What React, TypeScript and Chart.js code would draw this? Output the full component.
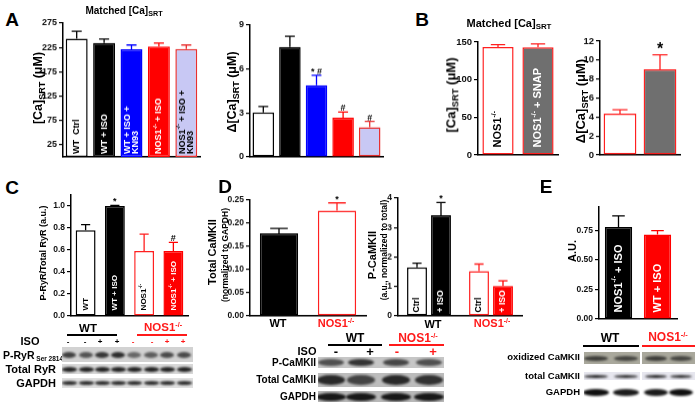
import React, { useEffect, useRef } from "react";
import { Chart, registerables } from "chart.js";
Chart.register(...registerables);

const FONT = '"Liberation Sans", Arial, Helvetica, sans-serif';

// ---------------- DATA ----------------
const aLeftCategories = ["WT  Ctrl", "WT + ISO", "WT + ISO +|KN93", "NOS1^{-/-} + ISO", "NOS1^{-/-} + ISO +|KN93"];
const aLeftValues = [243, 234, 221, 227, 222];
const aLeftErrors = [15, 8, 9, 7, 8];
const aLeftTicks = [25, 75, 125, 175, 225, 275];

const aRightValues = [3.04, 7.5, 4.9, 2.68, 2.03];
const aRightErrors = [0.41, 0.74, 0.67, 0.39, 0.4];
const aRightTicks = [0, 3, 6, 9];
const aRightMarks = ["", "", "* #", "#", "#"];

const bLeftCategories = ["NOS1^{-/-}", "NOS1^{-/-} + SNAP"];
const bLeftValues = [143.4, 143];
const bLeftErrors = [3, 4.4];
const bLeftTicks = [0, 50, 100, 150];

const bRightValues = [4.35, 9.03];
const bRightErrors = [0.42, 1.52];
const bRightTicks = [0, 2, 4, 6, 8, 10, 12];
const bRightMarks = ["", "*"];

const cCategories = ["WT", "WT + ISO", "NOS1^{-/-}", "NOS1^{-/-} + ISO"];
const cValues = [0.78, 1.0, 0.59, 0.59];
const cErrors = [0.05, 0.006, 0.155, 0.08];
const cTicks = [0, 0.2, 0.4, 0.6, 0.8, 1.0];
const cMarks = ["", "*", "", "#"];

const dLeftCategories = ["WT", "NOS1-/-"];
const dLeftValues = [0.178, 0.227];
const dLeftErrors = [0.011, 0.017];
const dLeftTicks = [0, 0.05, 0.1, 0.15, 0.2, 0.25];
const dLeftMarks = ["", "*"];

const dRightGroups = ["WT", "NOS1-/-"];
const dRightSeries = ["Ctrl", "+ ISO"];
const dRightCtrl = [1.65, 1.52];
const dRightCtrlErr = [0.14, 0.24];
const dRightIso = [3.42, 1.02];
const dRightIsoErr = [0.43, 0.17];
const dRightIsoMarks = ["*", ""];
const dRightTicks = [0, 1, 2, 3, 4];

const eCategories = ["NOS1^{-/-} + ISO", "WT + ISO"];
const eValues = [0.78, 0.717];
const eErrors = [0.095, 0.033];
const eTicks = [0, 0.25, 0.5, 0.75];

// ---------------- TYPES ----------------
type BarSet = {
  values: number[];
  errors: number[];
  fill: string[];
  border: string[];
  inner?: string[];
  innerColor?: string[];
  marks?: string[];
};

type Spec = {
  area: { l: number; t: number; r: number; b: number };
  labels: string[];
  sets: BarSet[];
  min: number;
  max: number;
  ticks: number[];
  decimals: number;
  tickSize: number;
  barPct: number;
  catPct: number;
  innerSize?: number;
  innerPad?: number;
  lineGap?: number;
  markSize?: number;
};

function drawRich(ctx: CanvasRenderingContext2D, text: string, x: number, y: number, size: number, color: string) {
  const parts = text.split(/(\^\{[^}]*\})/).filter((p) => p.length);
  let cx = x;
  ctx.fillStyle = color;
  ctx.textBaseline = "middle";
  ctx.textAlign = "left";
  for (const p of parts) {
    if (p.startsWith("^{")) {
      const t = p.slice(2, -1);
      ctx.font = `bold ${size * 0.62}px ${FONT}`;
      ctx.fillText(t, cx, y - size * 0.38);
      cx += ctx.measureText(t).width;
    } else {
      ctx.font = `bold ${size}px ${FONT}`;
      ctx.fillText(p, cx, y);
      cx += ctx.measureText(p).width;
    }
  }
}

function extrasPlugin(spec: Spec) {
  return {
    id: "extras",
    afterDatasetsDraw(chart: any) {
      const ctx: CanvasRenderingContext2D = chart.ctx;
      const ys = chart.scales.y;
      spec.sets.forEach((s, di) => {
        const meta = chart.getDatasetMeta(di);
        meta.data.forEach((el: any, i: number) => {
          const x = el.x;
          const top = el.y;
          const base = el.base;
          const w = el.width;
          const ye = ys.getPixelForValue(s.values[i] + s.errors[i]);
          ctx.save();
          ctx.strokeStyle = s.border[i];
          ctx.lineWidth = 1.3;
          ctx.beginPath();
          ctx.moveTo(x, top);
          ctx.lineTo(x, ye);
          ctx.moveTo(x - w * 0.23, ye);
          ctx.lineTo(x + w * 0.23, ye);
          ctx.stroke();
          if (s.marks && s.marks[i]) {
            ctx.fillStyle = "#000";
            ctx.font = `bold ${spec.markSize ?? 9}px ${FONT}`;
            ctx.textAlign = "center";
            ctx.textBaseline = "alphabetic";
            ctx.fillText(s.marks[i], x, ye - 1);
          }
          if (s.inner && s.inner[i]) {
            const lines = s.inner[i].split("|");
            ctx.translate(x, base - (spec.innerPad ?? 4));
            ctx.rotate(-Math.PI / 2);
            const gap = spec.lineGap ?? 8;
            lines.forEach((ln, k) =>
              drawRich(ctx, ln, 0, (k - (lines.length - 1) / 2) * gap, spec.innerSize ?? 9, s.innerColor ? s.innerColor[i] : "#000")
            );
          }
          ctx.restore();
        });
      });
    },
  };
}

function BarChart({ spec }: { spec: Spec }) {
  const ref = useRef<HTMLCanvasElement>(null);
  const WY = 30,
    PT = 8,
    PR = 2,
    XH = 8;
  const left = spec.area.l - WY;
  const top = spec.area.t - PT;
  const width = spec.area.r + PR - left;
  const height = spec.area.b + XH - top;
  useEffect(() => {
    const chart = new Chart(ref.current as HTMLCanvasElement, {
      type: "bar",
      data: {
        labels: spec.labels,
        datasets: spec.sets.map((s) => ({
          data: s.values,
          backgroundColor: s.fill,
          borderColor: s.border,
          borderWidth: 1.5,
          borderSkipped: false,
          barPercentage: spec.barPct,
          categoryPercentage: spec.catPct,
        })),
      },
      options: {
        animation: false,
        responsive: false,
        devicePixelRatio: 1,
        layout: { padding: { top: PT, right: PR, bottom: 0, left: 0 } },
        plugins: { legend: { display: false }, tooltip: { enabled: false } },
        scales: {
          x: {
            grid: { display: false },
            ticks: { display: false },
            border: { display: true, color: "#000", width: 1.5 },
            afterFit: (s: any) => {
              s.height = XH;
            },
          },
          y: {
            min: spec.min,
            max: spec.max,
            afterBuildTicks: (s: any) => {
              s.ticks = spec.ticks.map((v) => ({ value: v }));
            },
            afterFit: (s: any) => {
              s.width = WY;
            },
            grid: { drawOnChartArea: false, drawTicks: true, tickLength: 4, color: "#000", lineWidth: 1.2 },
            border: { display: true, color: "#000", width: 1.5 },
            ticks: {
              autoSkip: false,
              padding: 2,
              color: "#111",
              font: { family: FONT, size: spec.tickSize, weight: "bold" },
              callback: (v: any) => Number(v).toFixed(spec.decimals),
            },
          },
        },
      } as any,
      plugins: [extrasPlugin(spec)],
    });
    return () => chart.destroy();
  }, []);
  return <canvas ref={ref} width={width} height={height} style={{ position: "absolute", left, top, width, height }} />;
}

// ---------------- HTML helpers ----------------
function Txt(props: {
  x: number;
  y: number;
  size?: number;
  color?: string;
  weight?: number;
  rot?: boolean;
  align?: "center" | "left" | "right";
  children: any;
}) {
  const { x, y, size = 11, color = "#000", weight = 700, rot = false, align = "center", children } = props;
  const tx = align === "center" ? "-50%" : align === "right" ? "-100%" : "0";
  return (
    <div
      style={{
        position: "absolute",
        left: x,
        top: y,
        transform: `translate(${tx},-50%)${rot ? " rotate(-90deg)" : ""}`,
        fontSize: size,
        color,
        fontWeight: weight,
        fontFamily: FONT,
        whiteSpace: "nowrap",
        lineHeight: 1,
      }}
    >
      {children}
    </div>
  );
}
const Sup = ({ c }: { c: string }) => <span style={{ fontSize: "0.62em", position: "relative", top: "-0.55em" }}>{c}</span>;
const Sub = ({ c }: { c: string }) => <span style={{ fontSize: "0.72em", position: "relative", top: "0.3em" }}>{c}</span>;
const NOS = () => (
  <>
    NOS1
    <Sup c="-/-" />
  </>
);
const Line = ({ x1, x2, y, color }: { x1: number; x2: number; y: number; color: string }) => (
  <div style={{ position: "absolute", left: x1, top: y - 0.75, width: x2 - x1, height: 1.5, background: color }} />
);

function BlotRow(props: {
  x: number;
  y: number;
  w: number;
  h: number;
  bg: string;
  lanes: number[];
  bw: number;
  bh: number;
  alpha: number[];
  blur?: number;
}) {
  const { x, y, w, h, bg, lanes, bw, bh, alpha, blur = 0.8 } = props;
  return (
    <div style={{ position: "absolute", left: x, top: y, width: w, height: h, background: bg, overflow: "hidden" }}>
      {lanes.map((cx, i) => (
        <div
          key={i}
          style={{
            position: "absolute",
            left: cx - x - bw / 2,
            top: h / 2 - bh / 2,
            width: bw,
            height: bh,
            borderRadius: "50%",
            background: `rgba(15,15,15,${alpha[i]})`,
            filter: `blur(${blur}px)`,
          }}
        />
      ))}
    </div>
  );
}

// ---------------- SPECS ----------------
const aFill = ["#ffffff", "#000000", "#0000ff", "#ff0000", "#c8c8f4"];
const aBorder = ["#000000", "#000000", "#0000ff", "#ff0000", "#e83030"];

const specs: Spec[] = [
  {
    area: { l: 63, t: 23, r: 200, b: 156.5 },
    labels: aLeftCategories,
    sets: [
      {
        values: aLeftValues,
        errors: aLeftErrors,
        fill: aFill,
        border: aBorder,
        inner: aLeftCategories,
        innerColor: ["#000", "#fff", "#fff", "#fff", "#000"],
      },
    ],
    min: 0,
    max: 275,
    ticks: aLeftTicks,
    decimals: 0,
    tickSize: 9,
    barPct: 0.8,
    catPct: 1,
    innerSize: 9,
    innerPad: 3,
    lineGap: 8,
  },
  {
    area: { l: 250, t: 25, r: 383, b: 156.5 },
    labels: aLeftCategories,
    sets: [{ values: aRightValues, errors: aRightErrors, fill: aFill, border: aBorder, marks: aRightMarks }],
    min: 0,
    max: 9,
    ticks: aRightTicks,
    decimals: 0,
    tickSize: 9,
    barPct: 0.81,
    catPct: 1,
    markSize: 9,
  },
  {
    area: { l: 478, t: 41.7, r: 558, b: 155 },
    labels: bLeftCategories,
    sets: [
      {
        values: bLeftValues,
        errors: bLeftErrors,
        fill: ["#ffffff", "#6f6f6f"],
        border: ["#ff2020", "#ff2020"],
        inner: bLeftCategories,
        innerColor: ["#000", "#fff"],
      },
    ],
    min: 0,
    max: 150,
    ticks: bLeftTicks,
    decimals: 0,
    tickSize: 9.5,
    barPct: 0.78,
    catPct: 1,
    innerSize: 11,
    innerPad: 7,
  },
  {
    area: { l: 600, t: 41.3, r: 680, b: 155 },
    labels: bLeftCategories,
    sets: [
      { values: bRightValues, errors: bRightErrors, fill: ["#ffffff", "#6f6f6f"], border: ["#ff2020", "#ff2020"], marks: bRightMarks },
    ],
    min: 0,
    max: 12,
    ticks: bRightTicks,
    decimals: 0,
    tickSize: 9.5,
    barPct: 0.82,
    catPct: 1,
    markSize: 16,
  },
  {
    area: { l: 70.5, t: 194.7, r: 188, b: 315.7 },
    labels: cCategories,
    sets: [
      {
        values: cValues,
        errors: cErrors,
        fill: ["#ffffff", "#000000", "#ffffff", "#ff0000"],
        border: ["#000000", "#000000", "#ff2020", "#ff0000"],
        inner: cCategories,
        innerColor: ["#000", "#fff", "#000", "#fff"],
        marks: cMarks,
      },
    ],
    min: 0,
    max: 1.1,
    ticks: cTicks,
    decimals: 1,
    tickSize: 8.5,
    barPct: 0.68,
    catPct: 1,
    innerSize: 8,
    innerPad: 5,
    markSize: 9,
  },
  {
    area: { l: 250, t: 200, r: 366, b: 315.7 },
    labels: dLeftCategories,
    sets: [
      { values: dLeftValues, errors: dLeftErrors, fill: ["#000000", "#ffffff"], border: ["#000000", "#ff2020"], marks: dLeftMarks },
    ],
    min: 0,
    max: 0.25,
    ticks: dLeftTicks,
    decimals: 2,
    tickSize: 8.5,
    barPct: 0.66,
    catPct: 1,
    markSize: 9,
  },
  {
    area: { l: 398, t: 198.3, r: 522, b: 315.7 },
    labels: dRightGroups,
    sets: [
      {
        values: dRightCtrl,
        errors: dRightCtrlErr,
        fill: ["#ffffff", "#ffffff"],
        border: ["#000000", "#ff2020"],
        inner: [dRightSeries[0], dRightSeries[0]],
        innerColor: ["#000", "#000"],
      },
      {
        values: dRightIso,
        errors: dRightIsoErr,
        fill: ["#000000", "#ff0000"],
        border: ["#000000", "#ff0000"],
        inner: [dRightSeries[1], dRightSeries[1]],
        innerColor: ["#fff", "#fff"],
        marks: dRightIsoMarks,
      },
    ],
    min: 0,
    max: 4,
    ticks: dRightTicks,
    decimals: 0,
    tickSize: 8.5,
    barPct: 0.83,
    catPct: 0.774,
    innerSize: 8.5,
    innerPad: 3,
    markSize: 9,
  },
  {
    area: { l: 599, t: 207, r: 677, b: 319.3 },
    labels: eCategories,
    sets: [
      {
        values: eValues,
        errors: eErrors,
        fill: ["#000000", "#ff0000"],
        border: ["#000000", "#ff0000"],
        inner: eCategories,
        innerColor: ["#fff", "#fff"],
      },
    ],
    min: 0,
    max: 0.95,
    ticks: eTicks,
    decimals: 2,
    tickSize: 8.5,
    barPct: 0.7,
    catPct: 1,
    innerSize: 11,
    innerPad: 6,
  },
];

const RED = "#ff1a1a";
const CaSRT = (delta: boolean) => (
  <>
    {delta ? "Δ" : ""}[Ca]
    <Sub c="SRT" /> (μM)
  </>
);

export default function App() {
  useEffect(() => {
    document.body.style.margin = "0";
  }, []);
  return (
    <div style={{ position: "absolute", left: 0, top: 0, width: 700, height: 409, background: "#fff", overflow: "hidden" }}>
      {specs.map((s, i) => (
        <BarChart key={i} spec={s} />
      ))}

      {/* panel letters */}
      <Txt x={12} y={19} size={19}>A</Txt>
      <Txt x={422} y={19} size={19}>B</Txt>
      <Txt x={12} y={187} size={19}>C</Txt>
      <Txt x={225} y={186} size={19}>D</Txt>
      <Txt x={546} y={186} size={19}>E</Txt>

      {/* titles */}
      <Txt x={124} y={11} size={10}>
        Matched [Ca]
        <Sub c="SRT" />
      </Txt>
      <Txt x={509} y={23} size={11}>
        Matched [Ca]
        <Sub c="SRT" />
      </Txt>

      {/* axis titles */}
      <Txt x={38} y={88} size={12.5} rot>
        {CaSRT(false)}
      </Txt>
      <Txt x={232} y={92} size={12.5} rot>
        {CaSRT(true)}
      </Txt>
      <Txt x={451} y={95} size={13} rot>
        {CaSRT(false)}
      </Txt>
      <Txt x={581} y={101} size={13} rot>
        {CaSRT(true)}
      </Txt>
      <Txt x={43} y={253} size={9} rot>
        P-RyR/Total RyR (a.u.)
      </Txt>
      <Txt x={212} y={252} size={11} rot>
        Total CaMKII
      </Txt>
      <Txt x={225} y={255} size={8.5} rot>
        (normalized to GAPDH)
      </Txt>
      <Txt x={372} y={255} size={11} rot>
        P-CaMKII
      </Txt>
      <Txt x={384} y={250} size={8.5} rot>
        (a.u., normalized to total)
      </Txt>
      <Txt x={572} y={251} size={11} rot>
        A.U.
      </Txt>

      {/* D x labels */}
      <Txt x={278} y={323} size={11}>
        {dLeftCategories[0]}
      </Txt>
      <Txt x={336} y={323} size={11} color={RED}>
        <NOS />
      </Txt>
      <Txt x={433} y={324} size={11}>
        {dRightGroups[0]}
      </Txt>
      <Txt x={492} y={323} size={11} color={RED}>
        <NOS />
      </Txt>

      {/* C blot */}
      <Txt x={88} y={329} size={11.5}>WT</Txt>
      <Line x1={67} x2={117} y={335} color="#000" />
      <Txt x={163} y={328} size={11.5} color={RED}>
        <NOS />
      </Txt>
      <Line x1={137} x2={187} y={335} color={RED} />
      <Txt x={30} y={341} size={11}>ISO</Txt>
      {[68, 85, 100, 117, 133, 152, 167, 183].map((x, i) => (
        <Txt key={i} x={x} y={342} size={8} color={i < 4 ? "#000" : RED}>
          {i % 4 < 2 ? "-" : "+"}
        </Txt>
      ))}
      <Txt x={3} y={355} size={10.5} align="left">
        P-RyR
        <span style={{ fontSize: 6.5, position: "relative", top: 2 }}> Ser 2814</span>
      </Txt>
      <Txt x={56} y={369} size={11} align="right">Total RyR</Txt>
      <Txt x={56} y={383} size={11} align="right">GAPDH</Txt>
      <BlotRow x={62} y={347} w={131} h={15} bg="#d2d2d2" lanes={[69, 86, 102, 118, 134, 151, 167, 184]} bw={14} bh={6} alpha={[0.75, 0.65, 0.8, 0.85, 0.55, 0.6, 0.7, 0.7]} />
      <BlotRow x={62} y={364} w={131} h={10} bg="#d8d8d8" lanes={[69, 86, 102, 118, 134, 151, 167, 184]} bw={15} bh={5} alpha={[0.9, 0.9, 0.9, 0.9, 0.9, 0.9, 0.9, 0.9]} />
      <BlotRow x={62} y={378} w={131} h={10} bg="#e0e0e0" lanes={[69, 86, 102, 118, 134, 151, 167, 184]} bw={15} bh={3.5} alpha={[0.85, 0.85, 0.85, 0.85, 0.85, 0.85, 0.85, 0.85]} />

      {/* D blot */}
      <Txt x={355} y={338} size={12}>WT</Txt>
      <Line x1={328} x2={382} y={345} color="#000" />
      <Txt x={418} y={338} size={12} color={RED}>
        <NOS />
      </Txt>
      <Line x1={389} x2={444} y={345} color={RED} />
      <Txt x={307} y={351} size={11}>ISO</Txt>
      <Txt x={336} y={351} size={13}>-</Txt>
      <Txt x={370} y={351} size={13}>+</Txt>
      <Txt x={397} y={351} size={13} color={RED}>-</Txt>
      <Txt x={433} y={351} size={13} color={RED}>+</Txt>
      <Txt x={316} y={363} size={10} align="right">P-CaMKII</Txt>
      <Txt x={316} y={380} size={10} align="right">Total CaMKII</Txt>
      <Txt x={316} y={397} size={10} align="right">GAPDH</Txt>
      <BlotRow x={318} y={357} w={126} h={11} bg="#c6c6c6" lanes={[331, 361, 396, 429]} bw={26} bh={7} alpha={[0.65, 0.8, 0.7, 0.65]} />
      <BlotRow x={318} y={373} w={126} h={14} bg="#bcbcbc" lanes={[331, 361, 396, 429]} bw={28} bh={10} alpha={[0.85, 0.7, 0.85, 0.8]} />
      <BlotRow x={318} y={391} w={126} h={11} bg="#b8b8b8" lanes={[331, 361, 396, 429]} bw={30} bh={8} alpha={[0.95, 0.95, 0.95, 0.95]} />

      {/* E blot */}
      <Txt x={610} y={338} size={12}>WT</Txt>
      <Line x1={583} x2={639} y={346} color="#000" />
      <Txt x={668} y={337} size={12} color={RED}>
        <NOS />
      </Txt>
      <Line x1={642} x2={695} y={346} color={RED} />
      <Txt x={580} y={357} size={9.5} align="right">oxidized CaMKII</Txt>
      <Txt x={580} y={376} size={9.5} align="right">total CaMKII</Txt>
      <Txt x={580} y={392} size={9.5} align="right">GAPDH</Txt>
      <BlotRow x={584} y={352} w={56} h={12} bg="#a9a89c" lanes={[596, 626]} bw={24} bh={5} alpha={[0.7, 0.65]} />
      <BlotRow x={642} y={352} w={53} h={12} bg="#a9a89c" lanes={[656, 681]} bw={22} bh={5} alpha={[0.7, 0.65]} />
      <BlotRow x={584} y={372} w={56} h={8} bg="#e6e6ee" lanes={[596, 626]} bw={24} bh={3} alpha={[0.9, 0.85]} />
      <BlotRow x={642} y={372} w={53} h={8} bg="#e6e6ee" lanes={[656, 681]} bw={22} bh={3} alpha={[0.9, 0.85]} />
      <BlotRow x={584} y={386} w={56} h={12} bg="#ffffff" lanes={[596, 626]} bw={26} bh={7} alpha={[1, 0.95]} />
      <BlotRow x={642} y={386} w={53} h={12} bg="#ffffff" lanes={[656, 681]} bw={24} bh={7} alpha={[0.95, 1]} />
    </div>
  );
}
